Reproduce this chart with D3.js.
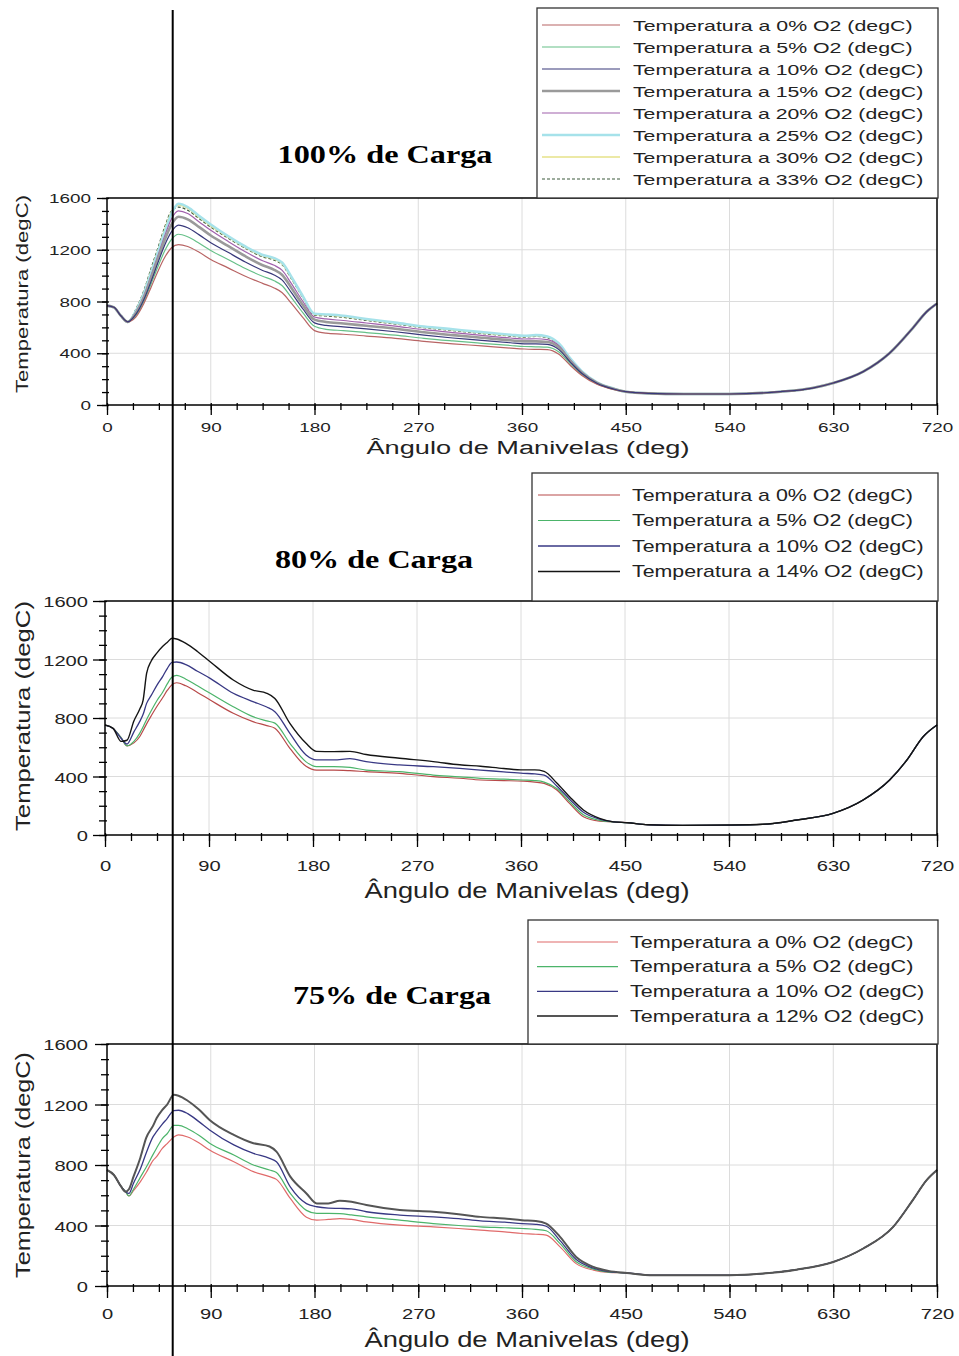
<!DOCTYPE html>
<html>
<head>
<meta charset="utf-8">
<script src="https://cdn.jsdelivr.net/npm/d3@7"></script>
<style>
  body { margin: 0; background: #fff; }
  svg { display: block; }
</style>
</head>
<body>
<svg id="fig" width="959" height="1356"></svg>
<script>
// ---------- shared axis values ----------
const xMajorTicks = [0, 90, 180, 270, 360, 450, 540, 630, 720];
const xMinorTicks = d3.range(0, 720.1, 22.5);
const yMajorTicks = [0, 400, 800, 1200, 1600];
const yMinorTicks = d3.range(0, 1600.1, 100);
const markerAngle = 57;

// ---------- 100% load ----------
const o2Levels100 = ["0%", "5%", "10%", "15%", "20%", "25%", "30%", "33%"];
const angles100 = [0, 6, 12, 18, 25, 32, 38, 44, 50, 56, 62, 70, 80, 90, 105, 120, 135, 145, 152, 160, 170,
                   180, 190, 205, 225, 250, 275, 300, 325, 350, 362, 372, 382, 392, 402, 412, 425, 440];
const temps100 = [
  [768, 755, 690, 645, 680, 785, 905, 1030, 1140, 1215, 1240, 1225, 1180, 1125, 1060, 995, 940, 905, 868, 785, 675,
   575, 555, 547, 533, 515, 492, 473, 457, 440, 433, 430, 428, 392, 305, 228, 160, 118],
  [768, 755, 690, 645, 690, 800, 930, 1065, 1190, 1280, 1320, 1300, 1250, 1195, 1125, 1055, 995, 960, 922, 830, 712,
   608, 585, 575, 560, 540, 515, 495, 477, 460, 452, 450, 447, 410, 318, 235, 165, 120],
  [768, 755, 690, 643, 700, 815, 950, 1095, 1235, 1340, 1390, 1370, 1315, 1255, 1180, 1105, 1040, 1005, 965, 868, 742,
   635, 615, 604, 588, 566, 540, 518, 500, 481, 473, 472, 468, 428, 330, 243, 168, 122],
  [768, 755, 690, 642, 710, 830, 975, 1125, 1275, 1395, 1455, 1435, 1375, 1310, 1230, 1150, 1080, 1045, 1005, 905, 772,
   660, 642, 630, 612, 590, 562, 540, 520, 500, 492, 492, 487, 445, 340, 250, 171, 124],
  [768, 755, 690, 642, 718, 845, 995, 1150, 1305, 1440, 1500, 1480, 1415, 1350, 1265, 1185, 1115, 1080, 1040, 938, 800,
   680, 665, 653, 634, 610, 582, 560, 538, 518, 510, 512, 505, 458, 348, 255, 173, 125],
  [768, 755, 690, 642, 725, 860, 1015, 1175, 1335, 1480, 1555, 1530, 1460, 1395, 1305, 1225, 1160, 1135, 1100, 990, 840,
   705, 700, 690, 665, 637, 607, 585, 563, 543, 535, 540, 530, 475, 358, 260, 175, 126],
  [768, 755, 690, 642, 730, 870, 1030, 1190, 1355, 1495, 1545, 1520, 1450, 1385, 1298, 1218, 1152, 1128, 1092, 982, 834,
   700, 695, 684, 660, 632, 602, 580, 558, 538, 530, 535, 525, 470, 356, 258, 174, 126],
  [768, 755, 690, 642, 740, 885, 1050, 1210, 1375, 1500, 1530, 1505, 1440, 1375, 1290, 1212, 1145, 1120, 1084, 975, 828,
   695, 688, 677, 654, 626, 597, 575, 553, 533, 525, 530, 520, 466, 353, 257, 174, 126]
];
// exhaust / intake part where all the curves coincide
const tailAngles100 = [450, 470, 500, 540, 584, 612, 630, 656, 679, 699, 711, 720];
const tailTemps100  = [103, 90, 85, 85, 103, 131, 170, 258, 402, 595, 721, 785];

// ---------- 80% load ----------
const o2Levels80 = ["0%", "5%", "10%", "14%"];
const angles80 = [0, 7, 14, 19, 25, 30, 33, 36, 40, 45, 50, 54, 58, 62, 70, 80, 91, 111, 128, 140,
                  147, 160, 174, 183, 198, 212, 226, 255, 284, 307, 325, 345, 362, 372, 380, 391, 402, 414, 428];
const temps80 = [
  [752, 729, 665, 610, 630, 672, 715, 760, 815, 880, 940, 990, 1028, 1041, 1020, 975, 923, 832, 775, 748,
   730, 593, 470, 444, 444, 440, 433, 422, 399, 388, 376, 372, 368, 362, 353, 308, 216, 125, 95],
  [752, 729, 665, 610, 640, 695, 740, 790, 850, 920, 978, 1035, 1080, 1092, 1065, 1020, 969, 877, 809, 780,
   765, 627, 500, 467, 467, 462, 444, 433, 410, 398, 387, 382, 376, 372, 362, 318, 228, 138, 100],
  [752, 729, 660, 622, 705, 775, 825, 900, 955, 1025, 1085, 1140, 1180, 1183, 1165, 1120, 1071, 969, 912, 875,
   843, 695, 547, 513, 513, 522, 501, 479, 467, 455, 444, 432, 422, 418, 410, 335, 245, 155, 108],
  [752, 729, 640, 648, 780, 860, 923, 1105, 1190, 1245, 1290, 1318, 1345, 1340, 1310, 1255, 1185, 1060, 991, 969,
   934, 763, 627, 572, 570, 572, 550, 525, 502, 480, 470, 455, 445, 445, 435, 355, 262, 171, 114]
];
const tailAngles80 = [440, 452, 470, 500, 541, 569, 599, 630, 656, 679, 694, 708, 720];
const tailTemps80  = [90, 84, 70, 66, 68, 73, 103, 148, 239, 376, 513, 672, 752];

// ---------- 75% load ----------
const o2Levels75 = ["0%", "5%", "10%", "12%"];
const angles75 = [0, 6, 12, 16, 19, 23, 29, 34, 40, 43, 48, 52, 58, 62, 70, 80, 89, 110, 127, 141,
                  147, 159, 173, 182, 192, 202, 212, 225, 254, 283, 305, 324, 345, 360, 372, 381, 393, 407, 422, 435];
const temps75 = [
  [767, 734, 660, 625, 595, 630, 690, 750, 830, 855, 910, 940, 985, 999, 985, 945, 899, 822, 756, 723,
   705, 579, 455, 435, 440, 446, 440, 424, 402, 391, 380, 369, 358, 347, 342, 336, 259, 148, 105, 90],
  [767, 734, 660, 625, 595, 640, 720, 785, 870, 911, 975, 1005, 1062, 1062, 1040, 995, 944, 866, 800, 767,
   750, 612, 500, 480, 480, 478, 470, 457, 435, 413, 400, 391, 385, 380, 374, 365, 280, 160, 112, 92],
  [767, 734, 660, 625, 612, 680, 775, 880, 988, 1020, 1070, 1105, 1160, 1162, 1140, 1085, 1032, 933, 877, 844,
   822, 656, 545, 524, 515, 513, 510, 491, 469, 457, 445, 431, 422, 413, 408, 395, 300, 175, 118, 95],
  [767, 734, 660, 623, 640, 723, 850, 980, 1060, 1109, 1165, 1198, 1264, 1258, 1225, 1165, 1098, 999, 944, 922,
   888, 723, 612, 546, 546, 564, 557, 535, 502, 491, 475, 457, 446, 435, 430, 413, 325, 192, 126, 100]
];
const tailAngles75 = [451, 474, 540, 569, 598, 630, 656, 682, 699, 711, 720];
const tailTemps75  = [86, 71, 71, 82, 108, 159, 248, 391, 568, 700, 767];

// ---------- line styles ----------
const styles100 = [
  { color: "#b86464", width: 1.2 },
  { color: "#66c088", width: 1.2 },
  { color: "#38387a", width: 1.2 },
  { color: "#9a9a9a", width: 2.6 },
  { color: "#a060ac", width: 1.2 },
  { color: "#a6e2ea", width: 2.6 },
  { color: "#e6e288", width: 1.4 },
  { color: "#3c5a3c", width: 1.2, dash: "3,2" }
];
const styles80 = [
  { color: "#b84a4a", width: 1.2 },
  { color: "#4cb46a", width: 1.2 },
  { color: "#383884", width: 1.3 },
  { color: "#141414", width: 1.4 }
];
const styles75 = [
  { color: "#e06a6a", width: 1.2 },
  { color: "#4cb46a", width: 1.2 },
  { color: "#383884", width: 1.3 },
  { color: "#555555", width: 2.0 }
];
// order in which the curves are stacked (last one ends up on top)
const drawOrder100 = [7, 6, 5, 4, 3, 1, 0, 2];
const drawOrder80 = [0, 1, 2, 3];
const drawOrder75 = [0, 1, 2, 3];

// ---------- panel layout ----------
const panels = [
  {
    levels: o2Levels100, angles: angles100, temps: temps100, tailA: tailAngles100, tailT: tailTemps100,
    styles: styles100, order: drawOrder100,
    left: 107, right: 937, top: 198, bottom: 405,
    tickFont: 13, cw: 10.5, major: 10, minor: 5, xTickY: 427, yTickRight: 91,
    xLabel: { x: 528, y: 448, size: 18, w: 323 }, yLabel: { x: 22, y: 294, size: 17, w: 198 },
    title: { text: "100% de Carga", x: 385, y: 163, w: 215 },
    legend: { x: 537, y: 8, w: 401, h: 190, lx0: 542, lx1: 620, tx: 633, row0: 25, step: 22, size: 15, cw: 10.75 }
  },
  {
    levels: o2Levels80, angles: angles80, temps: temps80, tailA: tailAngles80, tailT: tailTemps80,
    styles: styles80, order: drawOrder80,
    left: 105, right: 937, top: 601, bottom: 835,
    tickFont: 15, cw: 11.2, major: 12, minor: 6, xTickY: 865, yTickRight: 88,
    xLabel: { x: 527, y: 890, size: 22, w: 325 }, yLabel: { x: 22, y: 716, size: 21, w: 230 },
    title: { text: "80% de Carga", x: 374, y: 568, w: 198 },
    legend: { x: 532, y: 473, w: 406, h: 128, lx0: 538, lx1: 620, tx: 632, row0: 495, step: 25.5, size: 17, cw: 10.8 }
  },
  {
    levels: o2Levels75, angles: angles75, temps: temps75, tailA: tailAngles75, tailT: tailTemps75,
    styles: styles75, order: drawOrder75,
    left: 107, right: 937, top: 1044, bottom: 1286,
    tickFont: 15, cw: 11.2, major: 12, minor: 6, xTickY: 1313, yTickRight: 88,
    xLabel: { x: 527, y: 1339, size: 22, w: 325 }, yLabel: { x: 22, y: 1165, size: 21, w: 226 },
    title: { text: "75% de Carga", x: 392, y: 1004, w: 198 },
    legend: { x: 528, y: 920, w: 410, h: 124, lx0: 537, lx1: 618, tx: 630, row0: 942, step: 24.7, size: 17, cw: 10.9 }
  }
];

const SANS = "'Liberation Sans', Arial, sans-serif";
const SERIF = "'Liberation Serif', 'Times New Roman', serif";
const svg = d3.select("#fig");

function fit(sel, w) {
  return sel.attr("textLength", w).attr("lengthAdjust", "spacingAndGlyphs");
}

let firstX = null;

panels.forEach(P => {
  const x = d3.scaleLinear().domain([0, 720]).range([P.left, P.right]);
  const y = d3.scaleLinear().domain([0, 1600]).range([P.bottom, P.top]);
  if (!firstX) firstX = x;
  const g = svg.append("g");

  // grid
  g.append("g").selectAll("line").data(xMajorTicks.slice(1, -1)).join("line")
    .attr("x1", d => x(d)).attr("x2", d => x(d)).attr("y1", y(0)).attr("y2", y(1600))
    .attr("stroke", "#dcdcdc").attr("stroke-width", 1);
  g.append("g").selectAll("line").data(yMajorTicks.slice(1, -1)).join("line")
    .attr("x1", x(0)).attr("x2", x(720)).attr("y1", d => y(d)).attr("y2", d => y(d))
    .attr("stroke", "#dcdcdc").attr("stroke-width", 1);

  // curves
  const line = d3.line().x(d => x(d[0])).y(d => y(d[1])).curve(d3.curveMonotoneX);
  P.order.forEach(i => {
    const ts = P.temps[i];
    const pts = d3.zip(P.angles.concat(P.tailA), ts.concat(P.tailT));
    const s = P.styles[i];
    g.append("path").datum(pts).attr("d", line)
      .attr("fill", "none").attr("stroke", s.color).attr("stroke-width", s.width)
      .attr("stroke-dasharray", s.dash || null).attr("stroke-linejoin", "round");
  });

  // axes
  const xa = g.append("g").attr("transform", `translate(0,${P.bottom})`)
    .call(d3.axisBottom(x).tickValues(xMajorTicks).tickSize(P.major).tickFormat(d3.format("d")));
  const xm = g.append("g").attr("transform", `translate(0,${P.bottom})`)
    .call(d3.axisBottom(x).tickValues(xMinorTicks).tickSize(P.minor).tickFormat(""));
  const ya = g.append("g").attr("transform", `translate(${P.left},0)`)
    .call(d3.axisLeft(y).tickValues(yMajorTicks).tickSize(P.major).tickFormat(d3.format("d")));
  const ym = g.append("g").attr("transform", `translate(${P.left},0)`)
    .call(d3.axisLeft(y).tickValues(yMinorTicks).tickSize(P.minor).tickFormat(""));
  [xa, xm, ya, ym].forEach(a => {
    a.select(".domain").remove();
    a.selectAll(".tick line").attr("stroke", "#000").attr("stroke-width", 1.3);
  });
  xm.selectAll(".tick line").attr("y1", -2);
  ym.selectAll(".tick line").attr("x1", 2);
  xa.selectAll(".tick text")
    .attr("y", P.xTickY - P.bottom).attr("dy", null).attr("dominant-baseline", "central")
    .attr("font-family", SANS).attr("font-size", P.tickFont).attr("fill", "#222")
    .each(function(d) { fit(d3.select(this), String(d).length * P.cw); });
  ya.selectAll(".tick text")
    .attr("x", P.yTickRight - P.left).attr("dy", null).attr("dominant-baseline", "central")
    .attr("font-family", SANS).attr("font-size", P.tickFont).attr("fill", "#222")
    .each(function(d) { fit(d3.select(this), String(d).length * P.cw); });

  // frame
  g.append("rect").attr("x", x(0)).attr("y", y(1600))
    .attr("width", x(720) - x(0)).attr("height", y(0) - y(1600))
    .attr("fill", "none").attr("stroke", "#000").attr("stroke-width", 1.5);

  // axis titles
  fit(g.append("text").attr("x", P.xLabel.x).attr("y", P.xLabel.y)
    .attr("text-anchor", "middle").attr("dominant-baseline", "central")
    .attr("font-family", SANS).attr("font-size", P.xLabel.size).attr("fill", "#222")
    .text("Ângulo de Manivelas (deg)"), P.xLabel.w);
  fit(g.append("text").attr("transform", `translate(${P.yLabel.x},${P.yLabel.y}) rotate(-90)`)
    .attr("text-anchor", "middle").attr("dominant-baseline", "central")
    .attr("font-family", SANS).attr("font-size", P.yLabel.size).attr("fill", "#222")
    .text("Temperatura (degC)"), P.yLabel.w);

  // load title
  fit(g.append("text").attr("x", P.title.x).attr("y", P.title.y)
    .attr("text-anchor", "middle").attr("font-family", SERIF).attr("font-weight", "bold")
    .attr("font-size", 26).attr("fill", "#000").text(P.title.text), P.title.w);

  // legend
  const L = P.legend;
  const lg = g.append("g");
  lg.append("rect").attr("x", L.x).attr("y", L.y).attr("width", L.w).attr("height", L.h)
    .attr("fill", "#fff").attr("stroke", "#333").attr("stroke-width", 1.3);
  P.levels.forEach((lev, i) => {
    const cy = L.row0 + i * L.step;
    const s = P.styles[i];
    lg.append("line").attr("x1", L.lx0).attr("x2", L.lx1).attr("y1", cy).attr("y2", cy)
      .attr("stroke", s.color).attr("stroke-width", s.width).attr("stroke-dasharray", s.dash || null);
    const label = `Temperatura a ${lev} O2 (degC)`;
    fit(lg.append("text").attr("x", L.tx).attr("y", cy).attr("dominant-baseline", "central")
      .attr("font-family", SANS).attr("font-size", L.size).attr("fill", "#222").text(label),
      label.length * L.cw);
  });
});

// vertical reference line crossing the three plots
svg.append("line")
  .attr("x1", firstX(markerAngle)).attr("x2", firstX(markerAngle))
  .attr("y1", 10).attr("y2", 1356)
  .attr("stroke", "#000").attr("stroke-width", 2);
</script>
</body>
</html>
